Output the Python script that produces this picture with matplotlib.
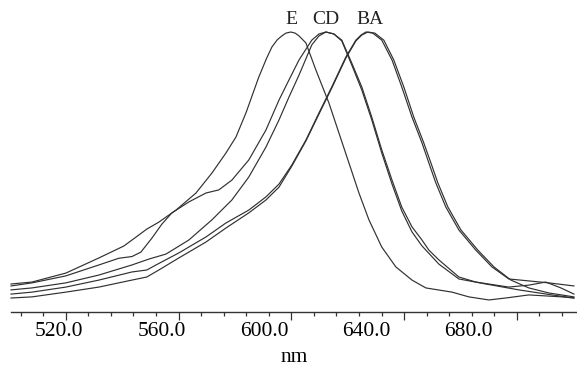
import matplotlib
matplotlib.use("Agg")
import matplotlib.pyplot as plt
from matplotlib.ticker import MultipleLocator, FixedLocator, NullFormatter

# spectra (wavelength nm, normalised absorbance)
nm_E = [501.3, 509.5, 522.7, 535.6, 545.4, 554.3, 559.0, 565.7, 573.5, 579.7, 585.2, 589.1,
        593.0, 598.0, 601.0, 603.1, 605.2, 607.0, 608.6, 610.5, 612.2, 613.7, 616.4, 620.3,
        625.4, 629.3, 633.2, 637.1, 641.0, 646.0, 651.5, 657.8, 663.2, 673.4, 680.0, 687.8,
        694.4, 703.4, 716.3, 721.0]
abs_E = [0.100, 0.107, 0.139, 0.193, 0.236, 0.296, 0.321, 0.364, 0.425, 0.496, 0.568, 0.625,
         0.711, 0.839, 0.905, 0.946, 0.972, 0.986, 0.996, 1.000, 0.996, 0.986, 0.961, 0.864,
         0.746, 0.639, 0.532, 0.425, 0.329, 0.232, 0.161, 0.114, 0.086, 0.071, 0.054, 0.043,
         0.050, 0.061, 0.054, 0.050]

nm_D = [501.3, 509.5, 522.7, 535.6, 543.4, 548.5, 552.0, 556.3, 560.2, 564.1, 570.7, 577.4,
        582.4, 587.5, 594.1, 600.8, 605.9, 609.8, 613.7, 618.7, 621.5, 624.2, 627.3, 630.4,
        634.3, 638.2, 642.1, 646.0, 650.0, 653.8, 657.8, 661.7, 664.4, 668.3, 676.1, 682.7,
        695.6, 703.4, 710.0, 715.9, 721.0]
abs_D = [0.093, 0.104, 0.129, 0.168, 0.192, 0.198, 0.214, 0.264, 0.314, 0.354, 0.393, 0.425,
         0.436, 0.471, 0.543, 0.650, 0.757, 0.829, 0.900, 0.971, 0.993, 1.000, 0.993, 0.971,
         0.889, 0.804, 0.696, 0.579, 0.471, 0.375, 0.304, 0.257, 0.221, 0.186, 0.125, 0.107,
         0.089, 0.096, 0.107, 0.086, 0.064]

nm_C = [501.3, 509.5, 522.7, 535.6, 548.5, 555.1, 561.8, 570.7, 579.7, 587.5, 594.1, 600.8,
        605.9, 609.8, 613.7, 618.7, 621.5, 624.2, 627.3, 630.4, 634.3, 638.2, 642.1, 646.0,
        650.0, 653.8, 657.8, 661.7, 668.3, 676.1, 686.6, 699.5, 712.4, 721.0]
abs_C = [0.079, 0.086, 0.104, 0.132, 0.168, 0.189, 0.207, 0.257, 0.329, 0.400, 0.482, 0.589,
         0.686, 0.768, 0.846, 0.954, 0.986, 1.000, 0.993, 0.968, 0.882, 0.793, 0.686, 0.568,
         0.457, 0.361, 0.286, 0.236, 0.171, 0.118, 0.100, 0.079, 0.061, 0.050]

nm_B = [501.3, 509.5, 522.7, 535.6, 548.5, 554.3, 557.9, 566.8, 577.4, 585.2, 594.1, 600.8,
        605.9, 610.9, 616.4, 621.5, 626.5, 632.0, 635.9, 637.9, 639.8, 642.5, 646.0, 650.0,
        653.8, 657.8, 661.7, 664.4, 667.1, 671.0, 676.1, 682.7, 689.0, 695.6, 703.4, 711.2,
        721.0]
abs_B = [0.064, 0.071, 0.089, 0.114, 0.143, 0.150, 0.168, 0.211, 0.268, 0.318, 0.364, 0.411,
         0.457, 0.525, 0.614, 0.711, 0.804, 0.911, 0.971, 0.989, 1.000, 0.996, 0.971, 0.900,
         0.804, 0.696, 0.604, 0.532, 0.461, 0.375, 0.293, 0.221, 0.161, 0.118, 0.111, 0.104,
         0.093]

nm_A = [501.3, 509.5, 522.7, 535.6, 548.5, 554.3, 559.0, 566.8, 577.4, 585.2, 594.1, 600.8,
        605.9, 610.9, 616.4, 621.5, 626.5, 632.0, 635.9, 638.2, 640.6, 643.3, 646.8, 650.7,
        654.6, 658.5, 662.4, 665.2, 667.9, 671.8, 676.9, 683.5, 689.8, 696.4, 703.4, 711.2,
        721.0]
abs_A = [0.050, 0.054, 0.071, 0.089, 0.114, 0.125, 0.150, 0.193, 0.250, 0.300, 0.354, 0.400,
         0.446, 0.521, 0.611, 0.707, 0.800, 0.907, 0.968, 0.989, 1.000, 0.996, 0.971, 0.900,
         0.804, 0.696, 0.604, 0.532, 0.461, 0.375, 0.293, 0.221, 0.161, 0.114, 0.086, 0.068,
         0.054]

peak_labels = ['E', 'CD', 'BA']
peak_label_nm = [610.8, 624.2, 641.5]
tick_values = [520, 560, 600, 640, 680]

fig = plt.figure(figsize=(5.77, 3.71), dpi=100)
ax = fig.add_axes([11 / 577, 59 / 371, 566 / 577, 312 / 371])

for x, y in [(nm_E, abs_E), (nm_D, abs_D), (nm_C, abs_C), (nm_B, abs_B), (nm_A, abs_A)]:
    ax.plot(x, y, color='#303030', lw=0.85, clip_on=False)

for lab, pos in zip(peak_labels, peak_label_nm):
    ax.text(pos, 1.045, lab, ha='center', va='center', fontsize=14,
            family='Liberation Serif', color='#222222')

ax.set_xlim(501.3, 722.2)
ax.set_ylim(0, 312 / 280)

for s in ['top', 'right', 'left']:
    ax.spines[s].set_visible(False)
ax.spines['bottom'].set_linewidth(1.0)
ax.spines['bottom'].set_color('#333333')
ax.set_yticks([])

# labels sit between the tick marks in the original software
ax.xaxis.set_major_locator(FixedLocator(tick_values))
ax.set_xticklabels([f'{v:.1f}' for v in tick_values])
ax.tick_params(axis='x', which='major', length=0, pad=7, labelsize=15.5)
for t in ax.get_xticklabels():
    t.set_family('Liberation Serif')

sec = ax.secondary_xaxis('bottom')
sec.xaxis.set_major_locator(MultipleLocator(44.0, offset=522.7 % 44.0))
sec.xaxis.set_minor_locator(MultipleLocator(8.8, offset=522.7 % 8.8))
sec.xaxis.set_major_formatter(NullFormatter())
sec.tick_params(which='major', length=6, width=0.9, color='#333333')
sec.tick_params(which='minor', length=3, width=0.9, color='#333333')
sec.spines['bottom'].set_visible(False)

ax.set_xlabel('nm', fontsize=15.5, family='Liberation Serif', labelpad=5)

fig.savefig('out.png', dpi=100)
